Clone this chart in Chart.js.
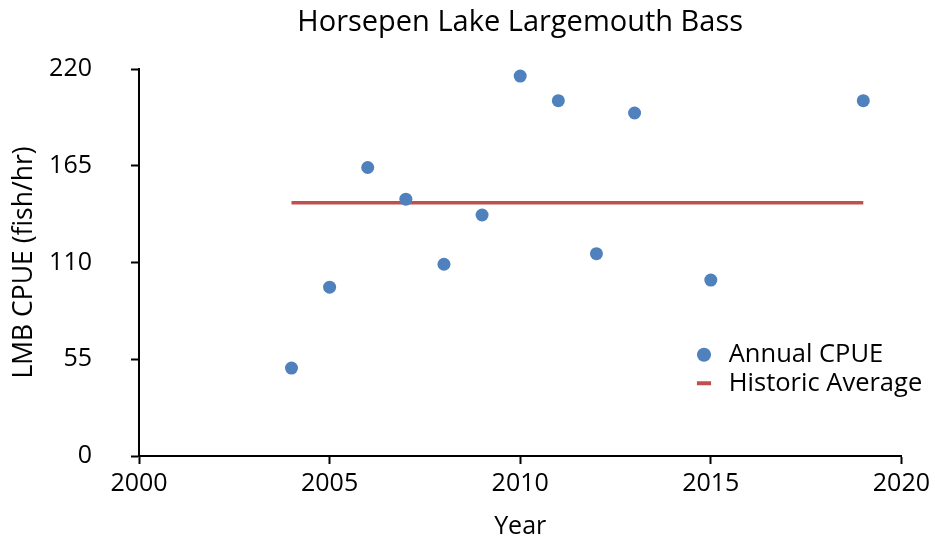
<!DOCTYPE html>
<html>
<head>
<meta charset="utf-8">
<script src="https://cdn.jsdelivr.net/npm/chart.js@4"></script>
<style>
  body { margin: 0; background: #fff; }
  #wrap { width: 935px; height: 542px; }
</style>
</head>
<body>
<div id="wrap"><canvas id="chart"></canvas></div>
<script>
// values
const years = [2004, 2005, 2006, 2007, 2008, 2009, 2010, 2011, 2012, 2013, 2015, 2019];
const cpue = [50, 96, 164, 146, 109, 137, 216, 202, 115, 195, 100, 202];
const avgYears = [2004, 2019];
const avgValue = 144;

const FONT = "'Open Sans', 'Liberation Sans', sans-serif";

// legend goes inside the plot (lower right), title is centred over the plot area
const boxMover = {
    id: 'boxMover',
    afterLayout(chart) {
        var lg = chart.legend;
        lg.left = 689;
        lg.top = 339;
        lg.right = lg.left + 260;
        lg.bottom = lg.top + 70;
        var t = chart.titleBlock;
        t.left = chart.chartArea.left;
        t.right = chart.chartArea.right;
    }
};

var ctx = document.getElementById('chart');
var chart = new Chart(ctx, {
    type: 'scatter',
    data: {
        datasets: [{
            label: 'Annual CPUE',
            data: years.map((y, i) => ({ x: y, y: cpue[i] })),
            pointRadius: 6.5,
            pointHoverRadius: 6.5,
            pointBackgroundColor: '#4F81BD',
            pointBorderColor: '#4F81BD',
            pointBorderWidth: 0,
            pointStyle: 'circle'
        }, {
            type: 'line',
            label: 'Historic Average',
            data: avgYears.map(y => ({ x: y, y: avgValue })),
            borderColor: '#C0504D',
            borderWidth: 3.5,
            pointRadius: 0,
            pointStyle: 'line',
            pointBorderColor: '#C0504D',
            pointBorderWidth: 4,
            fill: false
        }]
    },
    options: {
        responsive: true,
        maintainAspectRatio: false,
        animation: false,
        layout: { padding: { left: 0, right: 0, top: 0, bottom: 0 } },
        plugins: {
            title: {
                display: true,
                text: 'Horsepen Lake Largemouth Bass',
                color: '#000',
                font: { family: FONT, size: 29, weight: 'normal' },
                padding: { top: 5, bottom: 29.2 }
            },
            legend: {
                position: 'chartArea',
                align: 'start',
                labels: {
                    usePointStyle: true,
                    boxWidth: 24,
                    boxHeight: 10,
                    padding: 3,
                    color: '#000',
                    font: { family: FONT, size: 25.5 }
                }
            },
            tooltip: { enabled: false }
        },
        scales: {
            x: {
                type: 'linear',
                min: 2000,
                max: 2020,
                border: { color: '#000', width: 2 },
                grid: { drawOnChartArea: false, tickLength: 8, tickColor: '#000', tickWidth: 2 },
                ticks: {
                    stepSize: 5,
                    padding: 5,
                    color: '#000',
                    font: { family: FONT, size: 25 },
                    callback: v => String(v)
                },
                title: {
                    display: true,
                    text: 'Year',
                    color: '#000',
                    font: { family: FONT, size: 25 },
                    padding: { top: 0, bottom: 0 }
                },
                afterFit(scale) { scale.height = 86; }
            },
            y: {
                min: 0,
                max: 220,
                border: { color: '#000', width: 2 },
                grid: { drawOnChartArea: false, tickLength: 8, tickColor: '#000', tickWidth: 2 },
                ticks: {
                    stepSize: 55,
                    padding: 39,
                    color: '#000',
                    font: { family: FONT, size: 25 }
                },
                title: {
                    display: true,
                    text: 'LMB CPUE (fish/hr)',
                    color: '#000',
                    font: { family: FONT, size: 26.5 },
                    padding: { top: 9, bottom: 0 }
                },
                afterFit(scale) { scale.width = 139; }
            }
        }
    },
    plugins: [boxMover]
});
</script>
</body>
</html>
